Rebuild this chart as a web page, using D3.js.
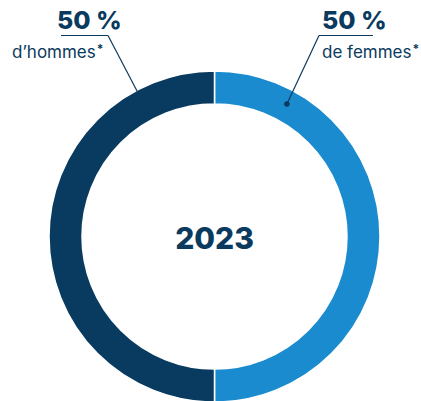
<!DOCTYPE html>
<html>
<head>
<meta charset="utf-8">
<script src="https://cdn.jsdelivr.net/npm/d3@7"></script>
<style>
  html, body { margin: 0; padding: 0; background: #fff; }
  svg { display: block; }
</style>
</head>
<body>
<div id="chart"></div>
<script>
// données
const categories = ['hommes', 'femmes'];
const values = [50, 50];
const pctLabels = ['50 %', '50 %'];
const subLabels = ['d\u2019hommes', 'de femmes'];
const yearLabel = '2023';

const width = 421, height = 401;
const colors = ['#083b5f', '#1b8bd0'];
const textColor = '#0a3a5e';

const svg = d3.select('#chart')
    .append('svg')
    .attr('width', width)
    .attr('height', height);

const cx = 214.5, cy = 236.5;
const outerR = 165.5, innerR = 132.5;

const g = svg.append('g').attr('transform', `translate(${cx},${cy})`);

// femmes à droite (0 → π), hommes à gauche (π → 2π)
const pie = d3.pie().sort(null).startAngle(0).endAngle(2 * Math.PI);
const order = [1, 0];
const arcsData = pie(order.map(i => values[i]));

const arc = d3.arc().innerRadius(innerR).outerRadius(outerR);

g.selectAll('path')
    .data(arcsData)
    .join('path')
    .attr('d', arc)
    .attr('fill', (d, i) => colors[order[i]])
    .attr('stroke', '#fff')
    .attr('stroke-width', 1.5);

// année au centre
g.append('text')
    .attr('text-anchor', 'middle')
    .attr('y', 12)
    .attr('font-family', 'Inter, sans-serif')
    .attr('font-weight', 800)
    .attr('font-size', 30)
    .attr('fill', textColor)
    .text(yearLabel);

// étiquettes avec traits de rappel
const labels = [
    { i: 0, angle: -0.49, tx: 57, ux1: 61, ux2: 108, sx: 12 },
    { i: 1, angle: 0.5, tx: 322, ux1: 319, ux2: 373, sx: 322 }
];
const midR = (innerR + outerR) / 2 + 2;

labels.forEach(l => {
    const px = cx + midR * Math.sin(l.angle);
    const py = cy - midR * Math.cos(l.angle);
    const joinX = l.i === 0 ? l.ux2 : l.ux1;

    svg.append('line')
        .attr('x1', l.ux1).attr('x2', l.ux2)
        .attr('y1', 35.5).attr('y2', 35.5)
        .attr('stroke', textColor).attr('stroke-width', 1);

    svg.append('line')
        .attr('x1', joinX).attr('y1', 35.5)
        .attr('x2', px).attr('y2', py)
        .attr('stroke', textColor).attr('stroke-width', 1.2);

    svg.append('circle')
        .attr('cx', px).attr('cy', py).attr('r', 2.8)
        .attr('fill', textColor);

    svg.append('text')
        .attr('x', l.tx).attr('y', 29)
        .attr('font-family', 'Inter, sans-serif')
        .attr('font-weight', 800)
        .attr('font-size', 25)
        .attr('fill', textColor)
        .text(pctLabels[l.i]);

    const sub = svg.append('text')
        .attr('x', l.sx).attr('y', 58)
        .attr('font-family', 'Inter, sans-serif')
        .attr('font-weight', 400)
        .attr('font-size', 17)
        .attr('fill', textColor);
    sub.append('tspan').text(subLabels[l.i]);
    sub.append('tspan')
        .attr('dx', 1)
        .attr('dy', -5)
        .attr('font-size', 12)
        .attr('font-weight', 700)
        .text('*');
});
</script>
</body>
</html>
